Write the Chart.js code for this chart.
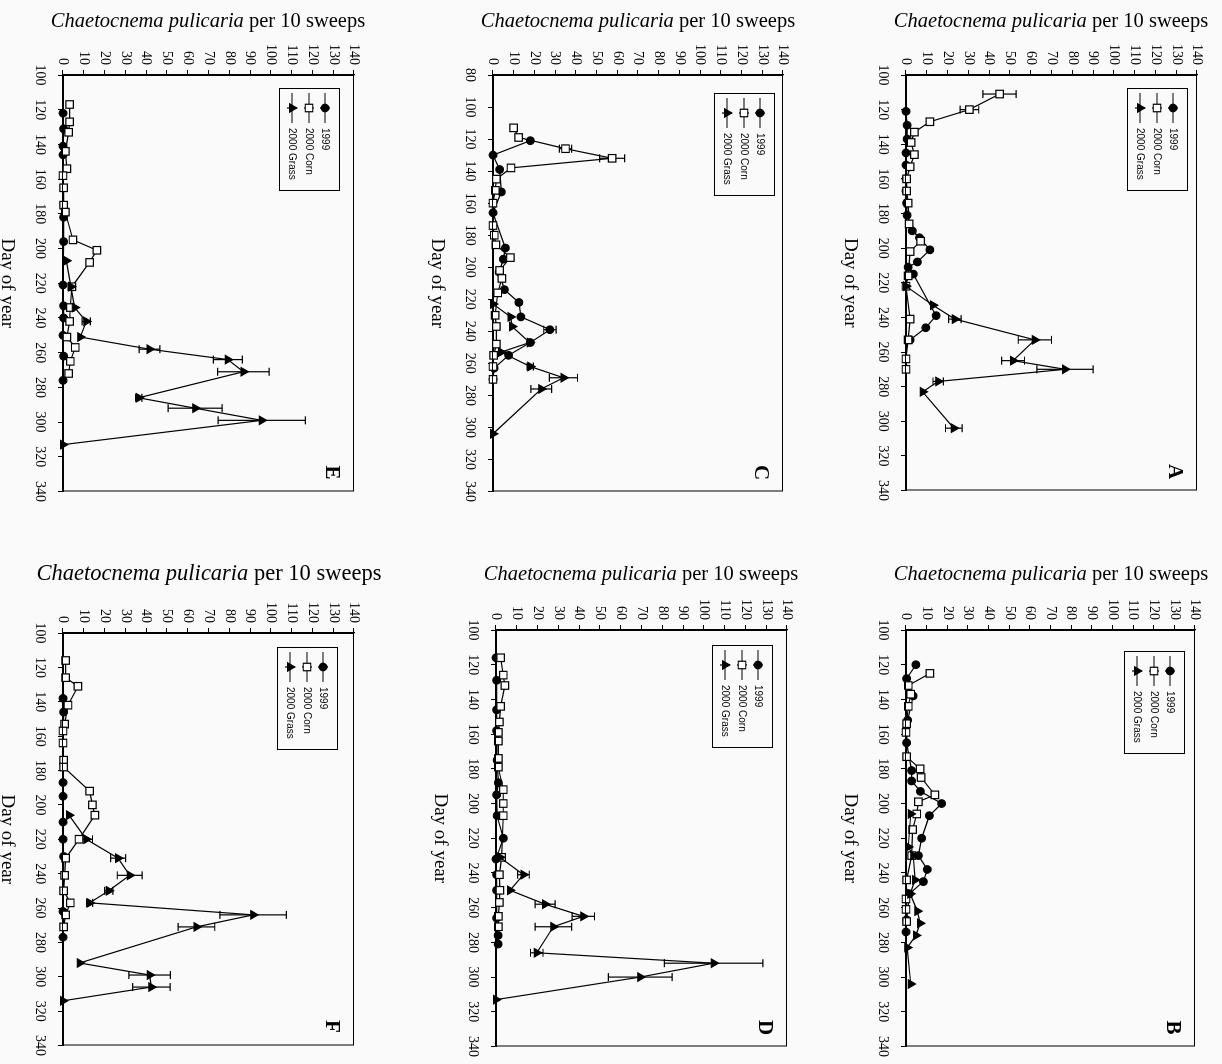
<!DOCTYPE html>
<html><head><meta charset="utf-8">
<script src="https://cdn.jsdelivr.net/npm/chart.js@4.4.0/dist/chart.umd.min.js"></script>
<style>
html,body{margin:0;padding:0;background:#fafafa;width:1222px;height:1064px;overflow:hidden;}
#page{position:absolute;left:0;top:0;width:1064px;height:1222px;transform-origin:0 0;transform:translate(1222px,0) rotate(90deg);}
#page canvas{position:absolute;}
.ttl{position:absolute;white-space:nowrap;font-family:'Liberation Serif','Times New Roman',serif;color:#000;transform:translate(-50%,-50%);line-height:1.1;}
</style></head><body>
<div id="page"></div>
<div id="titles"></div>
<script>
// ---------- DATA: [day of year, beetles per 10 sweeps] ----------
const SERIES_NAMES = ['1999', '2000 Corn', '2000 Grass'];
const Y_TITLE_SPECIES = 'Chaetocnema pulicaria';
const Y_TITLE_REST = ' per 10 sweeps';
const X_TITLE = 'Day of year';
const COUNT_TICKS = [0, 140, 10];

// Panel A
const A_1999 = [[121,0],[129,0.5],[137,0.5],[145,0],[152,0],[160,0],[167,0],[174,0.3],[181,0.5],[190,3],[194,6.5],[201,11.5],[208,5.5],[211,1],[215,3.5],[239,14.5],[246,9.5],[253,2]];
const A_corn = [[111,45],[120,30.5],[127,11.5],[133,4],[139,2.5],[146,4],[153,2],[160,0.3],[167,0.3],[174,1],[186,1.5],[196,7],[202,2],[216,1],[222,0],[241,2],[253,1],[264,0],[270,0]];
const A_corn_err = [8,4.5,0,0,0,0,0,0,0,0,0,0,0,0,0,0,0,0,0];
const A_grass = [[222,0],[233,13],[241,23.5],[253,62],[265,51.5],[270,76.5],[277,15.5],[283,8],[304,23]];
const A_grass_err = [0,0,3,8,5.5,13.5,2.5,0,4];

// Panel B
const B_1999 = [[120,4.8],[128,0.3],[138,3.5],[152,0.8],[165,0.3],[181,2.7],[187,2.7],[193,7],[200,17.3],[207,11.3],[220,7.6],[230,6],[238,10.3],[245,8.4],[252,1.6],[267,0.3],[274,0]];
const B_corn = [[125,11.6],[132,1.1],[137,2.3],[144,1.1],[154,0.3],[159,0],[173,0.3],[180,6.8],[185,7.3],[195,14],[199,6],[206,5.2],[215,3.2],[230,2.7],[244,0.3],[255,0],[261,0],[268,0.3]];
const B_grass = [[206,2.3],[225,1.1],[230,3.5],[244,4.4],[252,2],[262,5.5],[269,6.8],[276,4.8],[283,0.6],[304,2.3]];

// Panel C
const C_1999 = [[121,18],[130,0],[139,3.2],[153,4],[166,0],[188,6],[195,5],[203,3],[214,5.5],[222,12.5],[231,13.5],[239,27.5],[247,18],[255,7.5],[263,0.5],[270,0]];
const C_1999_err = [0,0,0,0,0,0,0,0,0,0,0,3,0,0,0,0];
const C_corn = [[113,10],[119,12.4],[126,35],[132,57.5],[138,8.7],[145,1.6],[152,1.1],[160,0],[174,0],[180,0.6],[186,1.4],[194,8.4],[202,3.2],[207,4.3],[216,2.3],[230,1],[237,1.6],[248,1.6],[255,0.3],[262,0],[270,0]];
const C_corn_err = [0,0,3,6,0,0,0,0,0,0,0,0,0,0,0,0,0,0,0,0,0];
const C_grass = [[223,0],[231,8.5],[237,9.2],[247,17.7],[253,3.9],[262,18],[269,34],[276,23.3],[304,0]];
const C_grass_err = [0,0,0,0,0,1.5,6.8,5,0];

// Panel D
const D_1999 = [[116,0],[129,0.3],[146,0.3],[158,0.3],[175,0.5],[188,1.1],[195,0.3],[207,0.5],[220,3.5],[232,0],[241,0.3],[250,0.3],[266,0.3],[276,1],[281,1]];
const D_corn = [[116,2.2],[126,3.5],[132,4.3],[144,2.2],[153,1.6],[159,1.1],[164,1.1],[174,1.1],[179,1.1],[192,3.5],[200,3.5],[207,3.5],[231,2.7],[241,1.6],[250,1.9],[257,1.6],[265,1.1],[271,1.1]];
const D_grass = [[231,1.9],[241,13.2],[250,6.7],[258,23.6],[265,42],[271,27.6],[286,19.6],[292,104.7],[300,69.4],[313,0]];
const D_grass_err = [0,2.8,0,4.8,5.4,8.8,3,23.7,15.3,0];

// Panel E
const E_1999 = [[122,0],[131,0.3],[141,0],[146,0],[182,0.3],[196,0.3],[221,0],[233,0.3],[240,0.3],[250,0],[262,0.3],[276,0]];
const E_corn = [[117,3.2],[127,3.2],[133,2.7],[144,1.1],[154,1.9],[158,0],[165,0.3],[175,0.3],[179,1.1],[195,4.8],[201,16.3],[208,12.8],[222,4.3],[234,3.5],[242,3.2],[251,1.9],[257,5.9],[265,3.5],[272,2.7]];
const E_grass = [[207,1.6],[222,3.8],[234,5.6],[242,11.2],[251,8.3],[258,41.6],[264,79.3],[271,86.8],[286,36.4],[292,63.6],[299,95.6],[313,0]];
const E_grass_err = [0,0,0,2,0,5,7,12.4,1.5,13,21,0];

// Panel F
const F_1999 = [[138,0],[146,0.3],[187,0],[195,0],[210,0],[220,0],[230,0.3],[262,0],[277,0]];
const F_corn = [[116,1.3],[126,1.3],[131,7.2],[142,2.4],[153,0.8],[157,0],[164,0],[174,0.3],[178,0.3],[192,12.8],[200,14.1],[206,15.3],[220,7.7],[231,1.3],[241,0.8],[250,0.3],[257,3.5],[264,1.3],[271,0.3]];
const F_grass = [[206,2.9],[220,11.2],[231,26.5],[241,32.1],[250,22],[257,12.8],[264,91.5],[271,64.2],[292,8],[299,41.7],[306,42.5],[314,0]];
const F_grass_err = [0,3,3.6,6,2,1.5,16,8.8,0,10,9,0];

// ---------- LAYOUT (unrotated page coordinates) ----------
const PANELS = [
  {id:'A', area:[75,25,491,316],   xmin:100, s:[A_1999,A_corn,A_grass], e:[null,A_corn_err,A_grass_err], leg:[13,9],  title:[1051,20,20.5]},
  {id:'B', area:[630,27,1047,316], xmin:100, s:[B_1999,B_corn,B_grass], e:[null,null,null],            leg:[21,10], title:[1051,573,20.5]},
  {id:'C', area:[75,439,492,729],  xmin:80,  s:[C_1999,C_corn,C_grass], e:[C_1999_err,C_corn_err,C_grass_err], leg:[18,8], title:[638,20,20.5]},
  {id:'D', area:[630,435,1047,726],xmin:100, s:[D_1999,D_corn,D_grass], e:[null,null,D_grass_err],      leg:[15,14], title:[641,573,20.5]},
  {id:'E', area:[75,868,492,1159], xmin:100, s:[E_1999,E_corn,E_grass], e:[null,null,E_grass_err],      leg:[13,14], title:[208,20,20.5]},
  {id:'F', area:[633,868,1046,1159],xmin:100,s:[F_1999,F_corn,F_grass], e:[null,null,F_grass_err],      leg:[14,16], title:[209,573,22.5]}
];

const WY = 50, HX = 70, PT = 15, PR = 20;
const SERIF = "'Liberation Serif','Times New Roman',serif";
const SANS = "'Liberation Sans',Arial,sans-serif";

const STYLES = [
  {pointStyle:'circle', pointRadius:3.8, bg:'#000'},
  {pointStyle:'rect', pointRadius:5.3, bg:'#fff'},
  {pointStyle:'triangle', pointRadius:4.8, bg:'#000'}
];

function drawMarker(ctx, style, x, y) {
  Chart.helpers.drawPoint(ctx, {pointStyle: style.pointStyle, radius: style.pointRadius, borderWidth: 1.2}, x, y);
}

const decor = {
  id: 'decor',
  beforeDatasetsDraw(chart) {
    const ctx = chart.ctx, xs = chart.scales.x, ys = chart.scales.y;
    ctx.save();
    ctx.strokeStyle = '#000'; ctx.lineWidth = 1.2;
    chart.data.datasets.forEach(ds => {
      if (!ds.errs) return;
      ds.data.forEach((p, i) => {
        const e = ds.errs[i]; if (!e) return;
        const px = xs.getPixelForValue(p.x);
        const y1 = ys.getPixelForValue(p.y - e), y2 = ys.getPixelForValue(p.y + e);
        ctx.beginPath();
        ctx.moveTo(px, y1); ctx.lineTo(px, y2);
        ctx.moveTo(px - 4, y1); ctx.lineTo(px + 4, y1);
        ctx.moveTo(px - 4, y2); ctx.lineTo(px + 4, y2);
        ctx.stroke();
      });
    });
    ctx.restore();
  },
  afterDraw(chart) {
    const ctx = chart.ctx, a = chart.chartArea, o = chart.options.plugins.decor;
    ctx.save();
    ctx.strokeStyle = '#000'; ctx.lineWidth = 1;
    ctx.strokeRect(a.left + 0.5, a.top + 0.5, a.right - a.left - 1, a.bottom - a.top);
    // legend box
    const bx = a.left + o.leg[0], by = a.top + o.leg[1], bw = 102, bh = 60;
    ctx.fillStyle = '#fafafa';
    ctx.fillRect(bx, by, bw, bh);
    ctx.strokeRect(bx + 0.5, by + 0.5, bw, bh);
    const rows = [15, 31, 48];
    ctx.font = '10px ' + SANS;
    ctx.textBaseline = 'middle';
    SERIES_NAMES.forEach((name, i) => {
      const yy = by + rows[i];
      ctx.strokeStyle = '#000'; ctx.lineWidth = 1.2;
      ctx.beginPath(); ctx.moveTo(bx + 5, yy); ctx.lineTo(bx + 35, yy);
      ctx.moveTo(bx + 20, yy - 5); ctx.lineTo(bx + 20, yy + 5);
      ctx.stroke();
      ctx.fillStyle = STYLES[i].bg; ctx.strokeStyle = '#000';
      drawMarker(ctx, STYLES[i], bx + 20, yy);
      ctx.fillStyle = '#000';
      ctx.fillText(name, bx + 40, yy + 0.5);
    });
    // panel letter
    ctx.font = 'bold 21px ' + SERIF;
    ctx.textAlign = 'center'; ctx.textBaseline = 'middle';
    ctx.fillStyle = '#000';
    ctx.fillText(o.letter, a.right - 19, a.top + 23);
    ctx.restore();
  }
};

Chart.defaults.font.family = SERIF;
Chart.defaults.color = '#000';

const page = document.getElementById('page');
const titles = document.getElementById('titles');

PANELS.forEach(P => {
  const [L, T, R, B] = P.area;
  const cv = document.createElement('canvas');
  const w = (R - L) + WY + PR, h = (B - T) + PT + HX;
  cv.width = w; cv.height = h;
  cv.style.left = (L - WY) + 'px'; cv.style.top = (T - PT) + 'px';
  cv.style.width = w + 'px'; cv.style.height = h + 'px';
  page.appendChild(cv);

  const datasets = P.s.map((arr, i) => ({
    label: SERIES_NAMES[i],
    data: arr.map(p => ({x: p[0], y: p[1]})),
    errs: P.e[i],
    showLine: true,
    borderColor: '#000', borderWidth: 1.2,
    pointStyle: STYLES[i].pointStyle,
    pointRadius: STYLES[i].pointRadius,
    pointBackgroundColor: STYLES[i].bg,
    pointBorderColor: '#000', pointBorderWidth: 1.2,
    clip: false,
    order: 2 - i
  }));

  new Chart(cv, {
    type: 'scatter',
    data: {datasets},
    options: {
      responsive: false, animation: false, devicePixelRatio: 1,
      layout: {padding: {left: 0, top: PT, right: PR, bottom: 0}},
      plugins: {legend: {display: false}, tooltip: {enabled: false}, decor: {leg: P.leg, letter: P.id}},
      scales: {
        x: {
          type: 'linear', min: P.xmin, max: 340,
          ticks: {stepSize: 20, font: {family: SERIF, size: 14}, color: '#000', padding: 10, maxRotation: 0, autoSkip: false},
          grid: {drawOnChartArea: false, color: '#000', tickLength: 5},
          border: {color: '#000', width: 1.3},
          title: {display: true, text: X_TITLE, font: {family: SERIF, size: 19}, color: '#000', padding: {top: 4, bottom: 3}},
          afterFit(s) { s.height = HX; }
        },
        y: {
          type: 'linear', min: COUNT_TICKS[0], max: COUNT_TICKS[1],
          ticks: {stepSize: COUNT_TICKS[2], font: {family: SERIF, size: 14}, color: '#000', padding: 5, autoSkip: false},
          grid: {drawOnChartArea: false, color: '#000', tickLength: 5},
          border: {color: '#000', width: 1.3},
          afterFit(s) { s.width = WY; }
        }
      }
    },
    plugins: [decor]
  });

  const t = document.createElement('div');
  t.className = 'ttl';
  t.style.left = P.title[0] + 'px'; t.style.top = P.title[1] + 'px';
  t.style.fontSize = P.title[2] + 'px';
  t.innerHTML = '<i>' + Y_TITLE_SPECIES + '</i>' + Y_TITLE_REST;
  titles.appendChild(t);
});
</script>
</body></html>
